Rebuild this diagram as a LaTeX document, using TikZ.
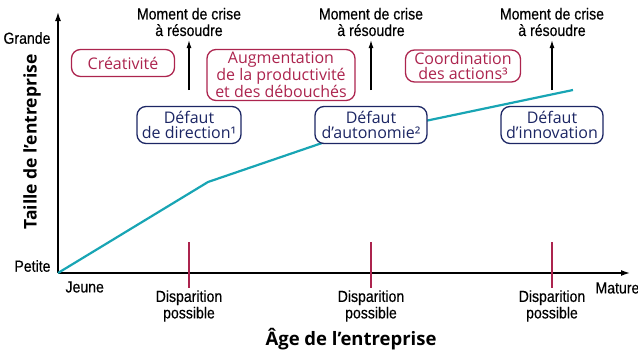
\documentclass[tikz,border=0pt]{standalone}
\usepackage{fontspec}
\setmainfont{Open Sans}
\newfontfamily\narrowfont[FakeStretch=0.88,FakeBold=0.4]{Liberation Sans}
\usetikzlibrary{arrows.meta}

\definecolor{crisered}{RGB}{172,36,78}
\definecolor{defautblue}{RGB}{28,38,100}
\definecolor{courbeteal}{RGB}{24,165,180}

\tikzset{
  phasebox/.style={draw=crisered,text=crisered,line width=1.3pt,rounded corners=9pt,
    align=center,font=\fontsize{16}{14.5}\selectfont,inner sep=0pt},
  defautbox/.style={draw=defautblue,text=defautblue,line width=1.3pt,rounded corners=9pt,
    align=center,font=\fontsize{16}{15}\selectfont,inner sep=0pt},
  petitlabel/.style={align=center,font=\narrowfont\fontsize{16}{16.5}\selectfont},
  axe/.style={line width=1.4pt,-{Latex[length=9pt,width=6pt]}},
  crise/.style={line width=1.3pt,-{Latex[length=8pt,width=5pt]}},
  tick/.style={crisered,line width=1.2pt},
}

\begin{document}
\begin{tikzpicture}[x=1pt,y=-1pt]
  \useasboundingbox (0,0) rectangle (638,356);

  % axes
  \coordinate (O) at (58,273);
  \coordinate (ytop) at (58,12);
  \coordinate (xend) at (630,273);
  \draw[axe] (O) -- (ytop);
  \draw[axe] (O) -- (xend);

  \node[petitlabel,anchor=east] (grande) at (54,38) {Grande};
  \node[petitlabel,anchor=east] (petite) at (54,266) {Petite};
  \node[petitlabel,anchor=west] (jeune) at (62,287) {Jeune};
  \node[petitlabel,anchor=west] (mature) at (592,288) {Mature};

  \node[rotate=90,font=\bfseries\fontsize{17.5}{17.5}\selectfont] (taille) at (32,142) {Taille de l'entreprise};
  \node[font=\bfseries\fontsize{18.5}{18.5}\selectfont] (age) at (351,339) {Âge de l'entreprise};

  % courbe
  \coordinate (c1) at (208,182);
  \coordinate (c2) at (325,142);
  \coordinate (c3) at (573,90);
  \draw[courbeteal,line width=2.2pt,line join=round] (O) -- (c1) -- (c2) -- (c3);

  % disparitions
  \foreach \x [count=\i] in {189,371,552} {
    \coordinate (tb\i) at (\x,242);
    \coordinate (te\i) at (\x,288);
    \draw[tick] (tb\i) -- (te\i);
    \node[petitlabel] (disp\i) at (\x,306) {Disparition\\possible};
  }

  % moments de crise
  \foreach \x [count=\i] in {189,371,552} {
    \coordinate (ab\i) at (\x,90);
    \coordinate (ah\i) at (\x,40);
    \draw[crise] (ab\i) -- (ah\i);
    \node[petitlabel] (moment\i) at (\x,22) {Moment de crise\\à résoudre};
  }

  % phases
  \node[phasebox,minimum width=103pt,minimum height=27pt] (creativite) at (123,63) {Créativité};
  \node[phasebox,minimum width=148pt,minimum height=51pt] (augmentation) at (281,75)
    {Augmentation\\de la productivité\\et des débouchés};
  \node[phasebox,minimum width=115pt,minimum height=32pt] (coordination) at (463,66)
    {Coordination\\des actions³};

  % defauts
  \node[defautbox,fill=white,minimum width=104pt,minimum height=37pt] (direction) at (189,125)
    {Défaut\\de direction¹};
  \node[defautbox,fill=white,minimum width=112pt,minimum height=37pt] (autonomie) at (371,125)
    {Défaut\\d'autonomie²};
  \node[defautbox,fill=white,minimum width=102pt,minimum height=37pt] (innovation) at (552,125)
    {Défaut\\d'innovation};
\end{tikzpicture}
\end{document}
